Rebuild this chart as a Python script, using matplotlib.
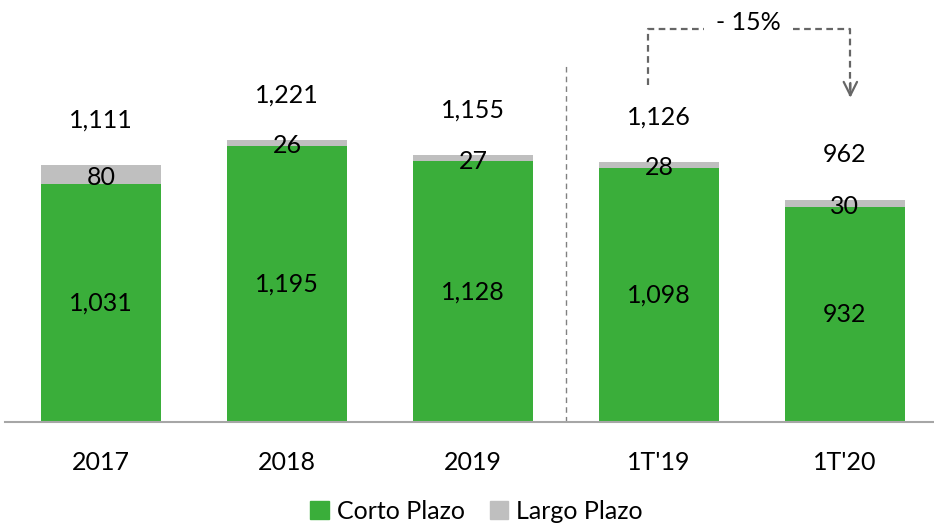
import matplotlib.pyplot as plt
from matplotlib.patches import Patch

plt.rcParams["font.family"] = ["Lato", "DejaVu Sans"]

CATEGORIES = ["2017", "2018", "2019", "1T'19", "1T'20"]
CORTO = [1031, 1195, 1128, 1098, 932]
LARGO = [80, 26, 27, 28, 30]
TOTAL = [1111, 1221, 1155, 1126, 962]
CHANGE_LABEL = "- 15%"

GREEN = "#3aae3a"
GRAY = "#bfbfbf"
FS = 18

fig = plt.figure(figsize=(9.34, 5.26), dpi=100)
ax = fig.add_axes([0.005, 0.198, 0.995, 0.79])

x = list(range(len(CATEGORIES)))
ax.bar(x, CORTO, width=0.645, color=GREEN, label="Corto Plazo")
ax.bar(x, LARGO, width=0.645, bottom=CORTO, color=GRAY, label="Largo Plazo")

for i in x:
    ax.text(i, CORTO[i] / 2, f"{CORTO[i]:,}", ha="center", va="center",
            fontsize=FS)
    ax.text(i, CORTO[i] + LARGO[i] / 2 - 12, f"{LARGO[i]}", ha="center",
            va="center", fontsize=FS)
    ax.text(i, TOTAL[i] + 195, f"{TOTAL[i]:,}", ha="center", va="center",
            fontsize=FS)

# separator between years and quarters
ax.plot([2.5, 2.5], [0, 1545], ls=(0, (4, 3)), color="#808080", lw=1)

# change bracket 1T'19 -> 1T'20
dash = (0, (3, 2))
ax.plot([2.94, 2.94, 3.24], [1459, 1701, 1701], ls=dash, color="#666666",
        lw=1.6, clip_on=False)
ax.plot([3.72, 4.03, 4.03], [1701, 1701, 1410], ls=dash, color="#666666",
        lw=1.6, clip_on=False)
ax.annotate("", xy=(4.03, 1392), xytext=(4.03, 1480),
            arrowprops=dict(arrowstyle="->", color="#666666", lw=1.6,
                            mutation_scale=24))
ax.text(3.48, 1732, CHANGE_LABEL, ha="center", va="center", fontsize=FS)

ax.set_xlim(-0.52, 4.48)
ax.set_ylim(0, 1800)
ax.set_xticks(x)
ax.set_xticklabels(CATEGORIES, fontsize=FS)
ax.tick_params(axis="x", length=0, pad=21)
ax.set_yticks([])
for side in ["top", "right", "left"]:
    ax.spines[side].set_visible(False)
ax.spines["bottom"].set_color("#a6a6a6")
ax.spines["bottom"].set_linewidth(1.5)

handles = [Patch(color=GREEN, label="Corto Plazo"),
           Patch(color=GRAY, label="Largo Plazo")]
fig.legend(handles=handles, loc="center", bbox_to_anchor=(0.51, 0.028),
           ncol=2, frameon=False, fontsize=FS, handlelength=0.75,
           handleheight=0.75, handletextpad=0.3, columnspacing=1.0)

fig.savefig("out.png", dpi=100)
